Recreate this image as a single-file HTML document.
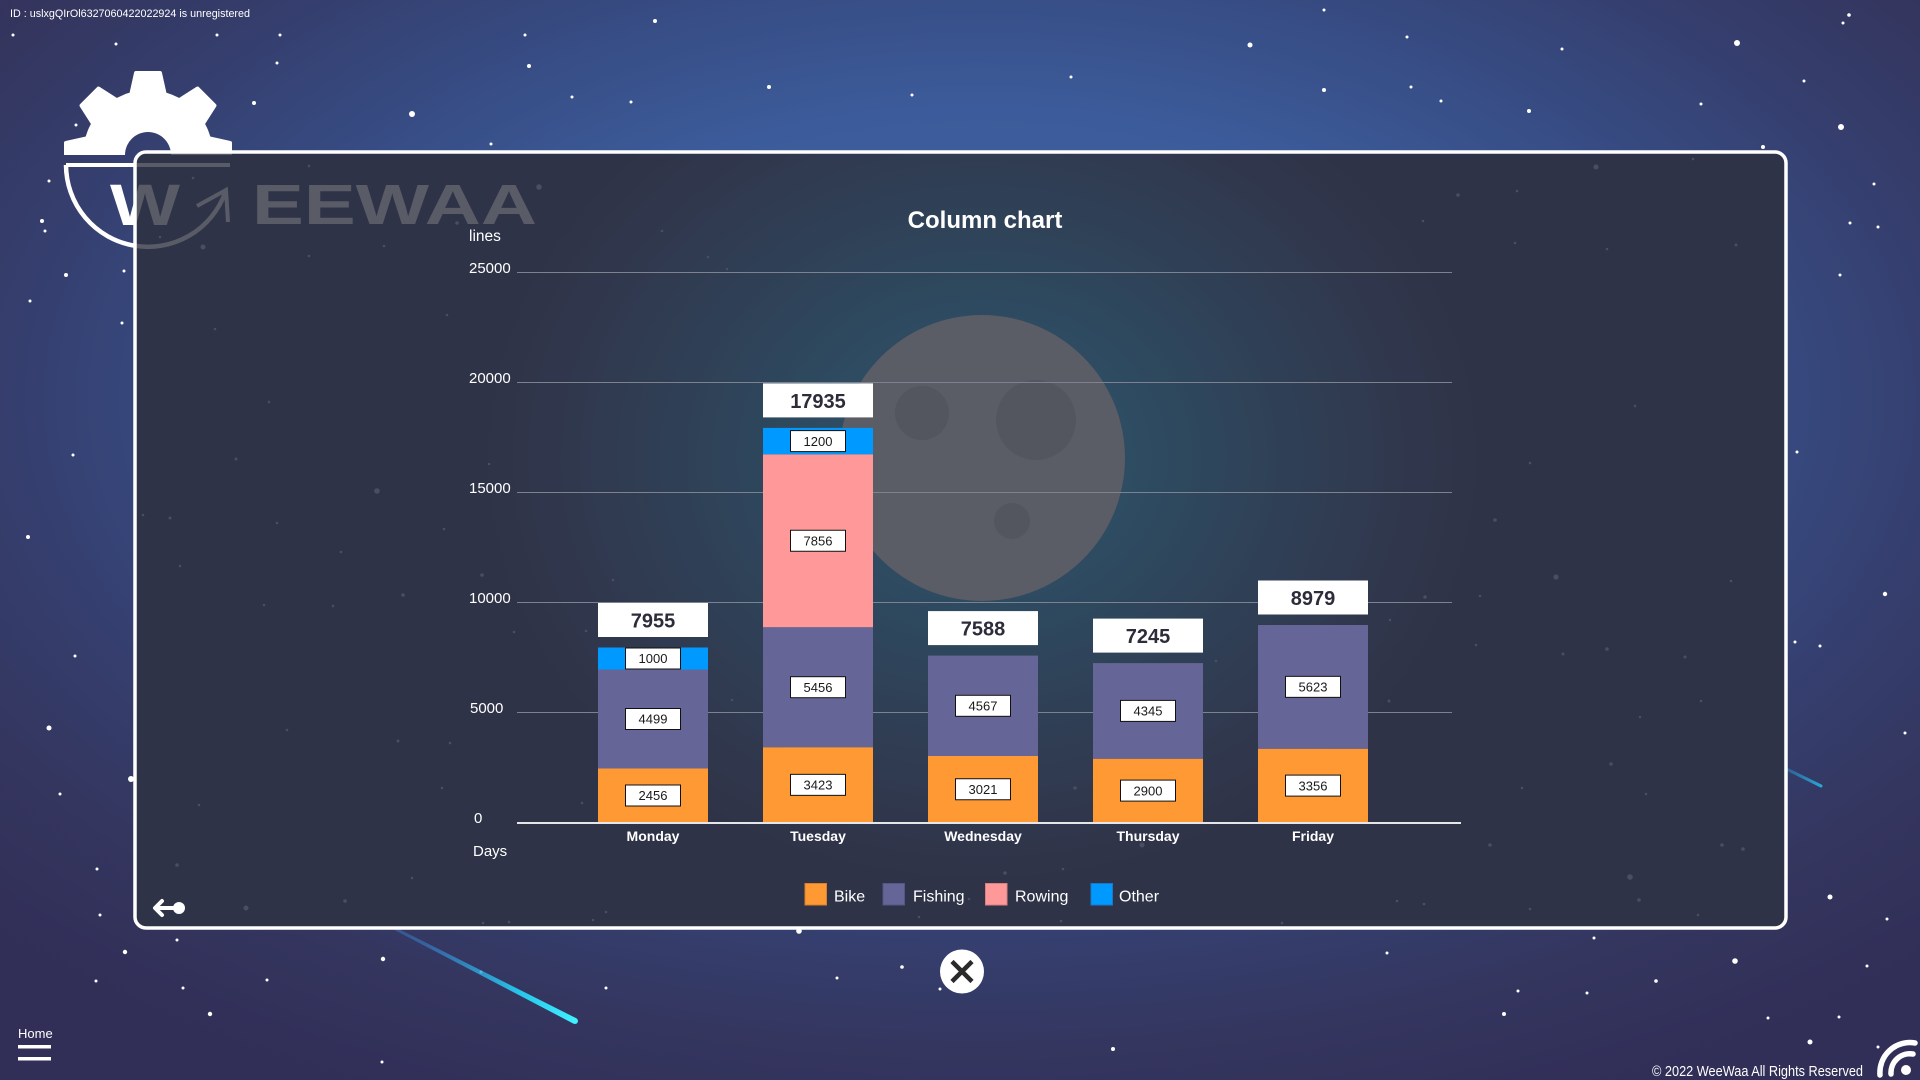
<!DOCTYPE html>
<html>
<head>
<meta charset="utf-8">
<style>
html,body{margin:0;padding:0;width:1920px;height:1080px;overflow:hidden;background:#33335a;}
svg{display:block;}
text{font-family:"Liberation Sans",Arial,sans-serif;}
</style>
</head>
<body>
<svg width="1920" height="1080" viewBox="0 0 1920 1080" xmlns="http://www.w3.org/2000/svg">
<defs>
  <radialGradient id="bg" gradientUnits="userSpaceOnUse" cx="980" cy="400" r="1380" gradientTransform="translate(980 400) scale(1 0.565) translate(-980 -400)">
    <stop offset="0" stop-color="#3f63a4"/>
    <stop offset="0.375" stop-color="#3c5b9a"/>
    <stop offset="0.583" stop-color="#36497f"/>
    <stop offset="0.708" stop-color="#353e6d"/>
    <stop offset="0.833" stop-color="#34365f"/>
    <stop offset="1" stop-color="#312e57"/>
  </radialGradient>
  <radialGradient id="glow" gradientUnits="userSpaceOnUse" cx="982" cy="458" r="500" gradientTransform="translate(982 458) scale(1 0.85) translate(-982 -458)">
    <stop offset="0" stop-color="#2f5266"/>
    <stop offset="0.33" stop-color="#2e4b61"/>
    <stop offset="0.58" stop-color="#2f4157"/>
    <stop offset="0.82" stop-color="#30384e"/>
    <stop offset="1" stop-color="#2f3347"/>
  </radialGradient>
  <linearGradient id="streak" gradientUnits="userSpaceOnUse" x1="300" y1="880" x2="575" y2="1021">
    <stop offset="0" stop-color="#3b6fc0" stop-opacity="0"/>
    <stop offset="0.45" stop-color="#3a7cc8" stop-opacity="0.6"/>
    <stop offset="0.8" stop-color="#26c6ea"/>
    <stop offset="1" stop-color="#40f0ff"/>
  </linearGradient>
  <linearGradient id="streak2" gradientUnits="userSpaceOnUse" x1="1760" y1="756" x2="1821" y2="786">
    <stop offset="0" stop-color="#2a80c0" stop-opacity="0"/>
    <stop offset="1" stop-color="#2aa8d8"/>
  </linearGradient>
  <mask id="gearMask" maskUnits="userSpaceOnUse" x="0" y="0" width="400" height="300">
    <rect x="0" y="0" width="400" height="300" fill="black"/>
    <g fill="white" stroke="white" stroke-width="4" stroke-linejoin="round">
      <circle cx="148" cy="155" r="63"/>
      <polygon points="130,100 166,100 160,73 136,73" transform="rotate(0 148 155)"/>
      <polygon points="130,100 166,100 160,73 136,73" transform="rotate(-45 148 155)"/>
      <polygon points="130,100 166,100 160,73 136,73" transform="rotate(45 148 155)"/>
      <polygon points="130,100 166,100 160,73 136,73" transform="rotate(-90 148 155)"/>
      <polygon points="130,100 166,100 160,73 136,73" transform="rotate(90 148 155)"/>
    </g>
    <rect x="0" y="155" width="400" height="200" fill="black"/>
    <circle cx="148" cy="155" r="23" fill="black"/>
  </mask>
  <g id="logoShapes">
    <rect x="0" y="0" width="400" height="300" fill="currentColor" mask="url(#gearMask)"/>
    <rect x="66" y="163" width="164" height="4" fill="currentColor"/>
    <path d="M 66 165 A 82 82 0 0 0 225 193" fill="none" stroke="currentColor" stroke-width="4.5"/>
    <polyline points="197,206 226,190 228,222" fill="none" stroke="currentColor" stroke-width="4"/>
  </g>
  <clipPath id="panelClip">
    <rect x="135" y="152" width="1651" height="776" rx="11"/>
  </clipPath>
</defs>

<!-- background -->
<rect x="0" y="0" width="1920" height="1080" fill="url(#bg)"/>

<!-- outer stars -->
<g fill="#ffffff">
<circle cx="13" cy="35" r="1.5"/><circle cx="116" cy="44" r="1.5"/><circle cx="217" cy="35" r="1.5"/><circle cx="280" cy="35" r="1.5"/><circle cx="277" cy="63" r="1.5"/><circle cx="254" cy="103" r="2"/><circle cx="412" cy="114" r="3"/><circle cx="525" cy="35" r="1.5"/><circle cx="529" cy="66" r="2"/><circle cx="572" cy="97" r="1.5"/><circle cx="631" cy="102" r="1.5"/><circle cx="491" cy="144" r="1.5"/><circle cx="76" cy="125" r="1.5"/><circle cx="49" cy="181" r="1.5"/><circle cx="42" cy="221" r="2"/><circle cx="45" cy="231" r="1.5"/><circle cx="66" cy="275" r="2"/><circle cx="124" cy="271" r="1.5"/><circle cx="30" cy="301" r="1.5"/><circle cx="122" cy="323" r="1.5"/><circle cx="73" cy="455" r="1.5"/><circle cx="28" cy="537" r="2"/><circle cx="75" cy="656" r="1.5"/><circle cx="49" cy="728" r="2.5"/><circle cx="131" cy="779" r="3"/><circle cx="60" cy="794" r="1.5"/><circle cx="97" cy="869" r="1.5"/><circle cx="100" cy="915" r="1.5"/><circle cx="125" cy="952" r="2.2"/><circle cx="177" cy="940" r="1.5"/><circle cx="96" cy="981" r="1.5"/><circle cx="183" cy="988" r="1.5"/><circle cx="210" cy="1014" r="2.2"/><circle cx="267" cy="980" r="1.5"/><circle cx="383" cy="959" r="2.2"/><circle cx="382" cy="1062" r="1.5"/><circle cx="481" cy="972" r="1.5"/><circle cx="606" cy="988" r="1.5"/>
<circle cx="655" cy="21" r="2"/><circle cx="769" cy="87" r="2"/><circle cx="912" cy="95" r="1.5"/><circle cx="1071" cy="77" r="1.5"/><circle cx="1250" cy="45" r="2.5"/><circle cx="1324" cy="10" r="1.5"/><circle cx="1324" cy="90" r="2"/><circle cx="1407" cy="37" r="1.5"/><circle cx="1411" cy="87" r="1.5"/><circle cx="1441" cy="101" r="1.5"/><circle cx="1529" cy="111" r="2"/><circle cx="1562" cy="49" r="1.5"/><circle cx="1737" cy="43" r="3"/><circle cx="1849" cy="15" r="1.8"/><circle cx="1843" cy="23" r="1.5"/><circle cx="1701" cy="104" r="1.5"/><circle cx="1804" cy="81" r="1.5"/><circle cx="1841" cy="127" r="3"/><circle cx="1763" cy="147" r="2"/><circle cx="1874" cy="184" r="1.5"/><circle cx="1850" cy="223" r="1.5"/><circle cx="1878" cy="227" r="1.5"/><circle cx="1840" cy="275" r="1.5"/><circle cx="1797" cy="452" r="1.5"/><circle cx="1885" cy="594" r="2.2"/><circle cx="1795" cy="642" r="1.5"/><circle cx="1820" cy="646" r="1.5"/><circle cx="1905" cy="733" r="1.5"/><circle cx="1830" cy="897" r="2.5"/><circle cx="1887" cy="919" r="1.5"/><circle cx="1867" cy="966" r="1.5"/><circle cx="1735" cy="961" r="2.8"/><circle cx="1594" cy="938" r="1.5"/><circle cx="1387" cy="953" r="1.5"/><circle cx="1656" cy="981" r="1.8"/><circle cx="1518" cy="991" r="1.5"/><circle cx="1587" cy="993" r="1.5"/><circle cx="1504" cy="1014" r="2"/><circle cx="1768" cy="1018" r="1.5"/><circle cx="1839" cy="1017" r="1.5"/><circle cx="1810" cy="1042" r="2.5"/><circle cx="1878" cy="1047" r="1.5"/><circle cx="1113" cy="1049" r="2"/><circle cx="799" cy="931" r="2.8"/><circle cx="902" cy="967" r="1.8"/><circle cx="837" cy="978" r="1.5"/><circle cx="940" cy="989" r="1.5"/>
</g>

<!-- shooting stars -->
<polygon points="300.2,879.5 299.8,880.5 573.6,1023.7 576.4,1018.3" fill="url(#streak)"/>
<circle cx="575" cy="1021" r="3" fill="#40f0ff"/>
<line x1="1760" y1="756" x2="1821" y2="786" stroke="url(#streak2)" stroke-width="3" stroke-linecap="round"/>

<!-- logo (white, outside panel) -->
<use href="#logoShapes" style="color:#ffffff"/>
<text x="110" y="225" font-size="58" font-weight="bold" fill="#ffffff" textLength="70" lengthAdjust="spacingAndGlyphs">W</text>

<!-- panel -->
<rect x="135" y="152" width="1651" height="776" rx="11" fill="#2f3347"/>
<rect x="135" y="152" width="1651" height="776" rx="11" fill="url(#glow)"/>

<!-- logo (grey, seen through panel) -->
<g clip-path="url(#panelClip)">
  <use href="#logoShapes" style="color:#595c67"/>
  <text x="110" y="225" font-size="58" font-weight="bold" fill="#595c67" textLength="70" lengthAdjust="spacingAndGlyphs">W</text>
</g>
<text x="252" y="224" font-size="57" font-weight="bold" fill="#595c67" textLength="285" lengthAdjust="spacingAndGlyphs">EEWAA</text>

<!-- panel inner faint stars -->
<g fill="#4a4e61">
<circle cx="215" cy="329" r="1.3"/><circle cx="269" cy="402" r="1.3"/><circle cx="236" cy="459" r="1.5"/><circle cx="377" cy="491" r="2.8"/><circle cx="143" cy="515" r="1.3"/><circle cx="170" cy="518" r="1.5"/><circle cx="277" cy="523" r="1.3"/><circle cx="341" cy="552" r="1.3"/><circle cx="180" cy="566" r="1.3"/><circle cx="403" cy="595" r="1.8"/><circle cx="264" cy="605" r="1.3"/><circle cx="333" cy="606" r="1.3"/><circle cx="444" cy="529" r="1.3"/><circle cx="447" cy="315" r="1.3"/><circle cx="287" cy="730" r="1.3"/><circle cx="398" cy="741" r="1.5"/><circle cx="450" cy="743" r="1.3"/><circle cx="442" cy="788" r="1.3"/><circle cx="199" cy="805" r="1.3"/><circle cx="177" cy="865" r="1.8"/>
<circle cx="1635" cy="406" r="1.3"/><circle cx="1530" cy="463" r="1.3"/><circle cx="1495" cy="520" r="1.8"/><circle cx="1556" cy="577" r="2.6"/><circle cx="1480" cy="596" r="1.3"/><circle cx="1731" cy="581" r="1.3"/><circle cx="1476" cy="645" r="1.3"/><circle cx="1563" cy="654" r="1.5"/><circle cx="1607" cy="649" r="1.8"/><circle cx="1685" cy="657" r="1.5"/><circle cx="1701" cy="701" r="1.3"/><circle cx="1640" cy="717" r="1.3"/><circle cx="1611" cy="764" r="1.8"/><circle cx="1522" cy="788" r="1.3"/><circle cx="1646" cy="794" r="1.3"/><circle cx="1490" cy="845" r="1.8"/><circle cx="1722" cy="845" r="1.8"/><circle cx="1743" cy="849" r="1.8"/><circle cx="1630" cy="877" r="2.8"/><circle cx="1639" cy="900" r="1.8"/><circle cx="1530" cy="909" r="1.3"/><circle cx="1698" cy="915" r="1.3"/>
<circle cx="1458" cy="195" r="1.8"/><circle cx="1517" cy="191" r="1.3"/><circle cx="1596" cy="167" r="2.5"/><circle cx="1693" cy="159" r="1.3"/><circle cx="1423" cy="221" r="1.3"/><circle cx="1515" cy="243" r="1.3"/><circle cx="1607" cy="249" r="1.3"/><circle cx="1736" cy="245" r="1.5"/>
<circle cx="309" cy="166" r="1.3"/><circle cx="193" cy="178" r="1.3"/><circle cx="539" cy="187" r="2.8"/><circle cx="457" cy="223" r="1.8"/><circle cx="203" cy="247" r="2.5"/><circle cx="384" cy="246" r="1.3"/><circle cx="309" cy="256" r="1.3"/><circle cx="160" cy="237" r="1.3"/><circle cx="662" cy="231" r="1.3"/><circle cx="708" cy="257" r="1.3"/><circle cx="727" cy="269" r="1.3"/><circle cx="489" cy="464" r="1.3"/><circle cx="482" cy="575" r="1.8"/><circle cx="586" cy="631" r="1.3"/><circle cx="514" cy="632" r="1.3"/><circle cx="613" cy="580" r="1.3"/><circle cx="732" cy="700" r="1.3"/><circle cx="582" cy="803" r="1.3"/>
<circle cx="1425" cy="597" r="1.8"/><circle cx="1390" cy="620" r="1.3"/><circle cx="1216" cy="661" r="1.3"/><circle cx="1389" cy="701" r="1.5"/><circle cx="1075" cy="788" r="1.8"/><circle cx="1142" cy="845" r="2.5"/><circle cx="1005" cy="873" r="1.8"/><circle cx="1063" cy="869" r="1.3"/><circle cx="969" cy="899" r="1.3"/><circle cx="919" cy="917" r="1.3"/><circle cx="1061" cy="921" r="1.3"/><circle cx="412" cy="878" r="1.3"/><circle cx="345" cy="901" r="1.8"/><circle cx="246" cy="908" r="2.5"/><circle cx="483" cy="923" r="1.3"/><circle cx="509" cy="922" r="1.3"/><circle cx="593" cy="920" r="1.3"/><circle cx="606" cy="912" r="1.3"/><circle cx="1397" cy="901" r="1.3"/><circle cx="1424" cy="904" r="1.3"/><circle cx="1282" cy="923" r="1.3"/>
</g>

<!-- moon -->
<circle cx="982" cy="458" r="143" fill="#5a5c66"/>
<circle cx="922" cy="413" r="27" fill="#53565f"/>
<circle cx="1036" cy="420" r="40" fill="#53565f"/>
<circle cx="1012" cy="521" r="18" fill="#53565f"/>

<!-- title -->
<text x="985" y="228" font-size="24" font-weight="bold" fill="#ffffff" text-anchor="middle">Column chart</text>

<!-- gridlines -->
<g stroke="#7d8291" stroke-width="1">
  <line x1="517" y1="272.5" x2="1452" y2="272.5"/>
  <line x1="517" y1="382.5" x2="1452" y2="382.5"/>
  <line x1="517" y1="492.5" x2="1452" y2="492.5"/>
  <line x1="517" y1="602.5" x2="1452" y2="602.5"/>
  <line x1="517" y1="712.5" x2="1452" y2="712.5"/>
</g>

<!-- axis labels -->
<g fill="#ffffff" font-size="15">
  <text x="469" y="241" font-size="15.5">lines</text>
  <text x="469" y="273">25000</text>
  <text x="469" y="383">20000</text>
  <text x="469" y="493">15000</text>
  <text x="469" y="603">10000</text>
  <text x="470" y="713">5000</text>
  <text x="474" y="823">0</text>
  <text x="473" y="856">Days</text>
</g>

<!-- bars -->
<rect x="598" y="768.5" width="110" height="54" fill="#ff9933"/>
<rect x="598" y="669.5" width="110" height="99" fill="#656597"/>
<rect x="598" y="647.5" width="110" height="22" fill="#0099ff"/>
<rect x="763" y="747.2" width="110" height="75.3" fill="#ff9933"/>
<rect x="763" y="627.2" width="110" height="120" fill="#656597"/>
<rect x="763" y="454.3" width="110" height="172.9" fill="#ff9999"/>
<rect x="763" y="427.9" width="110" height="26.4" fill="#0099ff"/>
<rect x="928" y="756" width="110" height="66.5" fill="#ff9933"/>
<rect x="928" y="655.6" width="110" height="100.4" fill="#656597"/>
<rect x="1093" y="758.7" width="110" height="63.8" fill="#ff9933"/>
<rect x="1093" y="663.1" width="110" height="95.6" fill="#656597"/>
<rect x="1258" y="748.7" width="110" height="73.8" fill="#ff9933"/>
<rect x="1258" y="625" width="110" height="123.7" fill="#656597"/>

<!-- axis line -->
<line x1="517" y1="823" x2="1461" y2="823" stroke="#e6e6ea" stroke-width="2"/>

<!-- total boxes -->
<g fill="#ffffff">
  <rect x="598" y="603" width="110" height="34"/>
  <rect x="763" y="383.4" width="110" height="34"/>
  <rect x="928" y="611.1" width="110" height="34"/>
  <rect x="1093" y="618.6" width="110" height="34"/>
  <rect x="1258" y="580.5" width="110" height="34"/>
</g>
<g fill="#2c2c3a" font-size="20" font-weight="bold" text-anchor="middle">
  <text x="653" y="627.5">7955</text>
  <text x="818" y="407.9">17935</text>
  <text x="983" y="635.6">7588</text>
  <text x="1148" y="643.1">7245</text>
  <text x="1313" y="605">8979</text>
</g>

<!-- inner value boxes -->
<g fill="#ffffff" stroke="#111111" stroke-width="1">
  <rect x="625.5" y="785" width="55" height="21"/>
  <rect x="625.5" y="708.5" width="55" height="21"/>
  <rect x="625.5" y="648" width="55" height="21"/>
  <rect x="790.5" y="774.35" width="55" height="21"/>
  <rect x="790.5" y="676.7" width="55" height="21"/>
  <rect x="790.5" y="530.25" width="55" height="21"/>
  <rect x="790.5" y="430.6" width="55" height="21"/>
  <rect x="955.5" y="778.75" width="55" height="21"/>
  <rect x="955.5" y="695.3" width="55" height="21"/>
  <rect x="1120.5" y="780.1" width="55" height="21"/>
  <rect x="1120.5" y="700.4" width="55" height="21"/>
  <rect x="1285.5" y="775.1" width="55" height="21"/>
  <rect x="1285.5" y="676.35" width="55" height="21"/>
</g>
<g fill="#1a1a1a" font-size="13" text-anchor="middle">
  <text x="653" y="800.2">2456</text>
  <text x="653" y="723.7">4499</text>
  <text x="653" y="663.2">1000</text>
  <text x="818" y="789.5">3423</text>
  <text x="818" y="691.9">5456</text>
  <text x="818" y="545.4">7856</text>
  <text x="818" y="445.8">1200</text>
  <text x="983" y="793.9">3021</text>
  <text x="983" y="710.5">4567</text>
  <text x="1148" y="795.3">2900</text>
  <text x="1148" y="715.6">4345</text>
  <text x="1313" y="790.3">3356</text>
  <text x="1313" y="691.5">5623</text>
</g>

<!-- day labels -->
<g fill="#ffffff" font-size="14" font-weight="bold" text-anchor="middle">
  <text x="653" y="841">Monday</text>
  <text x="818" y="841">Tuesday</text>
  <text x="983" y="841">Wednesday</text>
  <text x="1148" y="841">Thursday</text>
  <text x="1313" y="841">Friday</text>
</g>

<!-- legend -->
<rect x="805" y="883.5" width="21.5" height="21.5" fill="#ff9933" stroke="#d9802e" stroke-width="1"/>
<rect x="883" y="883.5" width="21.5" height="21.5" fill="#656597" stroke="#565686" stroke-width="1"/>
<rect x="985.5" y="883.5" width="21.5" height="21.5" fill="#ff9999" stroke="#d98080" stroke-width="1"/>
<rect x="1091" y="883.5" width="21.5" height="21.5" fill="#0099ff" stroke="#1a78c8" stroke-width="1"/>
<g fill="#ffffff" font-size="16">
  <text x="834" y="901.5">Bike</text>
  <text x="913" y="901.5">Fishing</text>
  <text x="1015" y="901.5">Rowing</text>
  <text x="1119" y="901.5">Other</text>
</g>

<!-- back arrow -->
<g stroke="#ffffff" stroke-width="4" stroke-linecap="round" stroke-linejoin="round" fill="none">
  <path d="M156 908 H178"/>
  <path d="M162 901 L155 908 L162 915"/>
</g>
<circle cx="179" cy="908" r="6" fill="#ffffff"/>

<!-- panel border -->
<rect x="135" y="152" width="1651" height="776" rx="11" fill="none" stroke="#ffffff" stroke-width="3.5"/>

<!-- close button -->
<circle cx="962" cy="971.5" r="22" fill="#ffffff"/>
<path d="M952 961.5 L972 981.5 M972 961.5 L952 981.5" stroke="#2a2a2a" stroke-width="4.5"/>

<!-- top-left ID -->
<text x="10" y="17" font-size="11" fill="#ffffff" textLength="240" lengthAdjust="spacingAndGlyphs">ID : uslxgQIrOl6327060422022924 is unregistered</text>

<!-- home -->
<text x="18" y="1038" font-size="13" fill="#ffffff">Home</text>
<rect x="18" y="1045" width="33" height="3.5" fill="#ffffff"/>
<rect x="18" y="1057" width="33" height="3.5" fill="#ffffff"/>

<!-- copyright -->
<text x="1652" y="1076" font-size="14.5" fill="#ffffff" textLength="211" lengthAdjust="spacingAndGlyphs">© 2022 WeeWaa All Rights Reserved</text>

<!-- broadcast icon -->
<g stroke="#ffffff" stroke-width="5.5" fill="none" stroke-linecap="round">
  <path d="M 1880 1075 A 30 30 0 0 1 1915 1043"/>
  <path d="M 1891 1074 A 19 19 0 0 1 1913 1054"/>
</g>
<circle cx="1906" cy="1070" r="5" fill="#ffffff"/>
</svg>
</body>
</html>
